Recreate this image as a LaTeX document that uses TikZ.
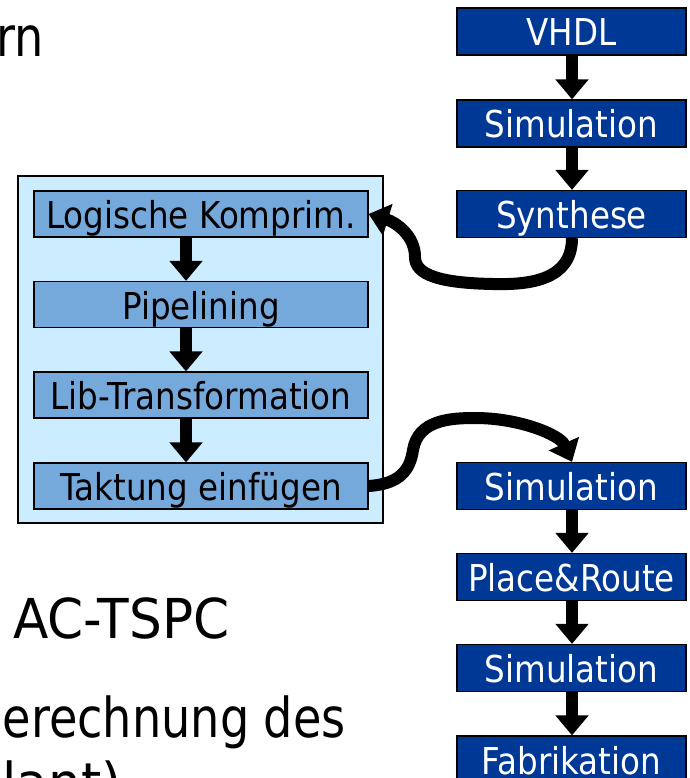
\documentclass[tikz,border=0pt]{standalone}
\usepackage{fontspec}
\usetikzlibrary{arrows.meta}
\newfontfamily\boxfont[FakeStretch=0.88]{DejaVu Sans}
\newfontfamily\bigAfont[FakeStretch=0.94]{DejaVu Sans}
\newfontfamily\bigBfont[FakeStretch=0.84]{DejaVu Sans}
\definecolor{darkbox}{RGB}{0,56,150}
\definecolor{midbox}{RGB}{117,168,219}
\definecolor{panel}{RGB}{204,236,255}
\tikzset{
  darkstep/.style={draw=black, line width=1.2pt, fill=darkbox, text=white,
    minimum width=229pt, minimum height=47pt, inner sep=0pt,
    text height=29pt, text depth=0pt, font=\boxfont\fontsize{37}{40}\selectfont},
  midstep/.style={draw=black, line width=1.2pt, fill=midbox, text=black,
    minimum width=334pt, minimum height=46pt, inner sep=0pt,
    text height=29pt, text depth=0pt, font=\boxfont\fontsize{37}{40}\selectfont},
  flowarrow/.style={draw=black, line width=12pt, -{Triangle[width=32pt,length=20pt]}},
  bigA/.style={inner sep=0pt, font=\bigAfont\fontsize{55}{66}\selectfont},
  bigB/.style={inner sep=0pt, font=\bigBfont\fontsize{55}{66}\selectfont}
}
\begin{document}
\begin{tikzpicture}[x=1pt,y=-1pt]
\useasboundingbox (0,0) rectangle (689,778);
\fill[white] (0,0) rectangle (689,778);

% background text
\node[bigB, anchor=base east] (trn) at (44,57) {rn};
\node[bigA, anchor=base west] (tac) at (13,638) {AC-TSPC};
\node[bigB, anchor=base east] (tber) at (346,737) {erechnung des};
\node[bigA, anchor=base west] (tpl) at (2,802) {lant)};

% left panel
\node[draw=black, line width=1.2pt, fill=panel, minimum width=365pt, minimum height=347pt, inner sep=0pt] (panelbox) at (200.5,349.5) {};
\node[midstep] (log) at (201,214) {Logische Komprim.};
\node[midstep] (pipe) at (201,304.5) {Pipelining};
\node[midstep] (lib) at (201,395) {Lib-Transformation};
\node[midstep] (tak) at (201,486) {Taktung einfügen};

% right column
\node[darkstep] (vhdl) at (571.5,31.5) {VHDL};
\node[darkstep] (sima) at (571.5,123.5) {Simulation};
\node[darkstep] (syn) at (571.5,214) {Synthese};
\node[darkstep] (simb) at (571.5,486) {Simulation};
\node[darkstep] (pr) at (571.5,577) {Place\&Route};
\node[darkstep] (simc) at (571.5,668) {Simulation};
\node[darkstep] (fab) at (571.5,759.5) {Fabrikation};

\coordinate (lx) at (186,0);
\coordinate (rx) at (572,0);

% straight arrows
\draw[flowarrow] (vhdl.south -| rx) -- (sima.north -| rx);
\draw[flowarrow] (sima.south -| rx) -- (syn.north -| rx);
\draw[flowarrow] (simb.south -| rx) -- (pr.north -| rx);
\draw[flowarrow] (pr.south -| rx) -- (simc.north -| rx);
\draw[flowarrow] (simc.south -| rx) -- (fab.north -| rx);
\draw[flowarrow] (log.south -| lx) -- (pipe.north -| lx);
\draw[flowarrow] (pipe.south -| lx) -- (lib.north -| lx);
\draw[flowarrow] (lib.south -| lx) -- (tak.north -| lx);

% curved arrows
\draw[flowarrow] (syn.south -| rx) .. controls (572,280) and (530,285) .. (493,284)
  .. controls (440,283) and (415,275) .. (415,257)
  .. controls (415,235) and (395,222) .. (log.east);
\draw[flowarrow] (tak.east) .. controls (400,484) and (410,470) .. (413,450)
  .. controls (418,420) and (450,418) .. (475,418)
  .. controls (520,418) and (560,435) .. (simb.north -| rx);
\end{tikzpicture}
\end{document}
